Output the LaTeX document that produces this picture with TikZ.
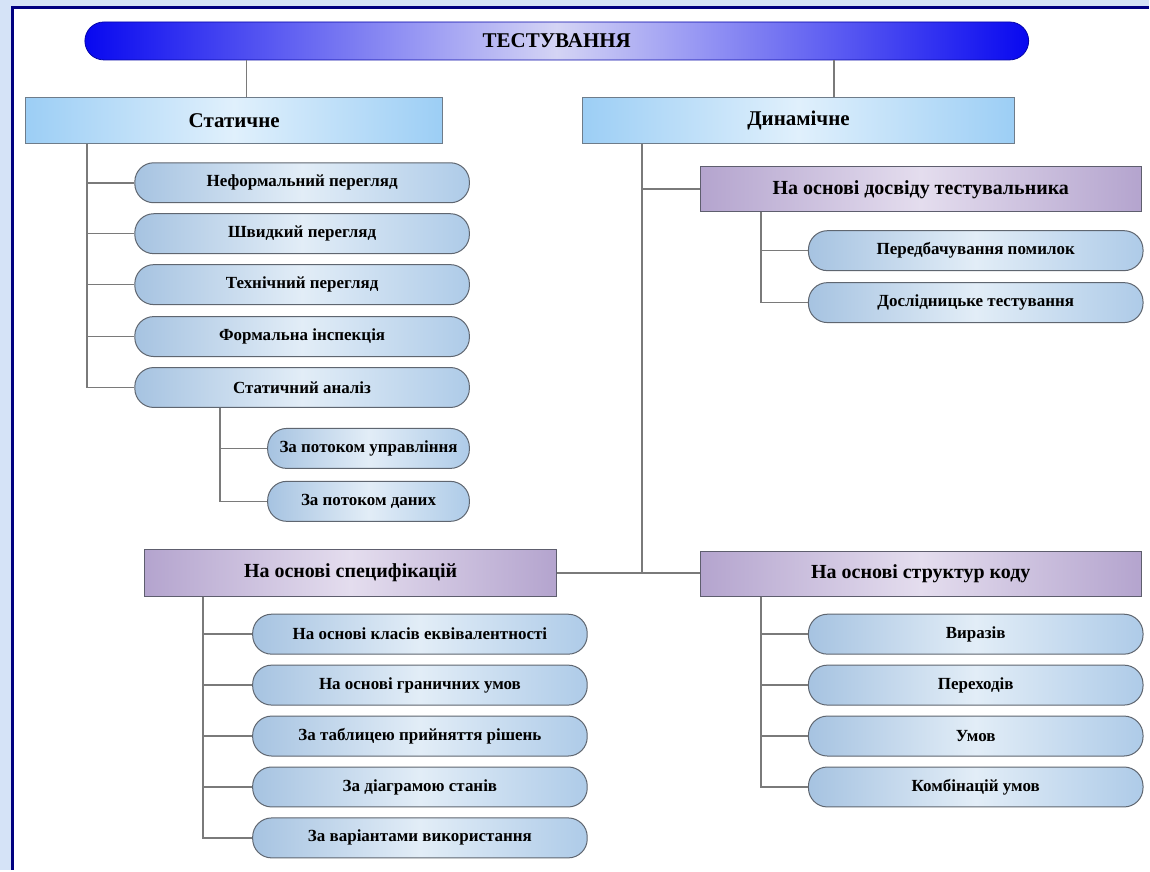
\documentclass[tikz,border=0pt]{standalone}
\usepackage{fontspec}
\setmainfont{Liberation Serif}
\begin{document}
\definecolor{pagebg}{HTML}{D5E3F7}
\definecolor{frameline}{HTML}{000080}
\definecolor{linkgray}{HTML}{7A7A7A}
\definecolor{pillend}{HTML}{0808F0}
\definecolor{pillmid}{HTML}{D4D4F4}
\definecolor{hdrend}{HTML}{9CCEF5}
\definecolor{hdrmid}{HTML}{E0F0FC}
\definecolor{hdredge}{HTML}{6E7C8A}
\definecolor{purend}{HTML}{B4A4CE}
\definecolor{purmid}{HTML}{E4DDEE}
\definecolor{puredge}{HTML}{5E5E6E}
\definecolor{itemend}{HTML}{A6C3E1}
\definecolor{itemmid}{HTML}{E2EDF7}
\definecolor{itemright}{HTML}{AECBE8}
\definecolor{itemedge}{HTML}{5F6670}
\begin{tikzpicture}[x=1pt,y=-1pt,
  font=\bfseries,
  link/.style={draw=linkgray,line width=1.6pt},
  pill/.style={rounded corners=19pt,draw=pillend!70!black,line width=0.8pt,
    left color=pillend,right color=pillend,middle color=pillmid,
    minimum width=945pt,minimum height=38pt,inner sep=0pt,font=\bfseries\fontsize{21}{24}\selectfont},
  hdr/.style={draw=hdredge,line width=1pt,left color=hdrend,right color=hdrend,middle color=hdrmid,
    minimum height=46pt,inner sep=0pt,font=\bfseries\fontsize{21}{24}\selectfont},
  grp/.style={draw=puredge,line width=1pt,left color=purend,right color=purend,middle color=purmid,
    minimum height=45pt,inner sep=0pt,font=\bfseries\fontsize{20}{23}\selectfont},
  item/.style={rounded corners=19pt,draw=itemedge,line width=1pt,
    left color=itemend,right color=itemright,middle color=itemmid,
    minimum height=40pt,inner sep=0pt,font=\bfseries\fontsize{17}{19}\selectfont},
  wide/.style={item,minimum width=335pt},
  narrow/.style={item,minimum width=202pt}]

% page and frame
\fill[pagebg] (0,0) rectangle (1150,871);
\fill[white] (11,6) rectangle (1150,871);
\draw[frameline,line width=3pt] (12.5,871) -- (12.5,7.5) -- (1150,7.5);
\useasboundingbox (0,0) rectangle (1150,871);

% root
\node[pill] (root) at (557.5,41) {ТЕСТУВАННЯ};

% first level
\node[hdr,minimum width=417pt] (stat) at (234.5,121) {Статичне};
\node[hdr,minimum width=433pt] (dyn) at (799.5,121) {Динамічне};

% static reviews
\node[wide] (s1) at (302.5,183) {Неформальний перегляд};
\node[wide] (s2) at (302.5,234) {Швидкий перегляд};
\node[wide] (s3) at (302.5,285) {Технічний перегляд};
\node[wide] (s4) at (302.5,337) {Формальна інспекція};
\node[wide] (s5) at (302.5,388) {Статичний аналіз};
\node[narrow] (a1) at (369,449) {За потоком управління};
\node[narrow] (a2) at (369,502) {За потоком даних};

% dynamic groups
\node[grp,minimum width=442pt] (exp) at (922,189.5) {На основі досвіду тестувальника};
\node[wide] (e1) at (977,251) {Передбачування помилок};
\node[wide] (e2) at (977,303) {Дослідницьке тестування};

\node[grp,minimum width=412pt,minimum height=47pt] (spec) at (351,573.5) {На основі специфікацій};
\node[wide] (p1) at (420.5,635) {На основі класів еквівалентності};
\node[wide] (p2) at (420.5,686) {На основі граничних умов};
\node[wide] (p3) at (420.5,737) {За таблицею прийняття рішень};
\node[wide] (p4) at (420.5,788) {За діаграмою станів};
\node[wide] (p5) at (420.5,839) {За варіантами використання};

\node[grp,minimum width=442pt] (code) at (922,574.5) {На основі структур коду};
\node[wide] (c1) at (977,635) {Виразів};
\node[wide] (c2) at (977,686) {Переходів};
\node[wide] (c3) at (977,737) {Умов};
\node[wide] (c4) at (977,788) {Комбінацій умов};

% spine positions
\coordinate (xs) at (247,0);
\coordinate (xd) at (835,0);
\coordinate (xstat) at (87,0);
\coordinate (xana) at (220,0);
\coordinate (xdyn) at (643,0);
\coordinate (xexp) at (762,0);
\coordinate (xspec) at (203,0);
\coordinate (xcode) at (762,0);

% connectors
\draw[link] (root.south -| xs) -- (stat.north -| xs);
\draw[link] (root.south -| xd) -- (dyn.north -| xd);
\foreach \n in {s1,s2,s3,s4,s5} \draw[link] (stat.south -| xstat) |- (\n.west);
\foreach \n in {a1,a2} \draw[link] (s5.south -| xana) |- (\n.west);
\draw[link] (dyn.south -| xdyn) |- (exp.west);
\draw[link] (dyn.south -| xdyn) -- (spec.east -| xdyn);
\draw[link] (spec.east) -- (code.west |- spec.east);
\foreach \n in {e1,e2} \draw[link] (exp.south -| xexp) |- (\n.west);
\foreach \n in {p1,p2,p3,p4,p5} \draw[link] (spec.south -| xspec) |- (\n.west);
\foreach \n in {c1,c2,c3,c4} \draw[link] (code.south -| xcode) |- (\n.west);
\end{tikzpicture}
\end{document}
